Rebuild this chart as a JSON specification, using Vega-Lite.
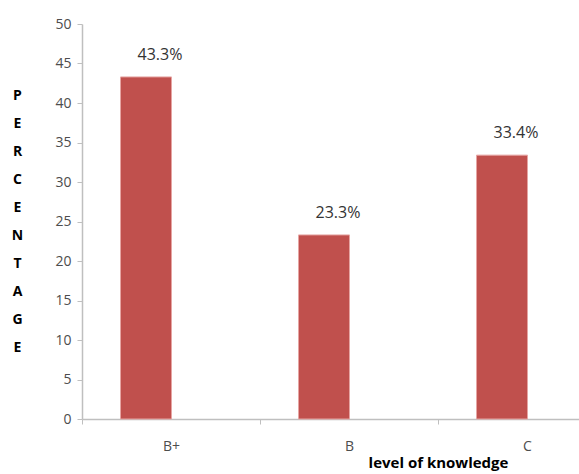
{
  "$schema": "https://vega.github.io/schema/vega-lite/v6.json",
  "width": 497,
  "height": 395,
  "autosize": {"type": "none"},
  "padding": {"left": 82, "top": 24, "right": 0, "bottom": 55},
  "background": "white",
  "config": {"view": {"stroke": null}, "font": "Open Sans"},
  "data": {
    "values": [
      {"level": "B+", "pct": 43.3, "label": "43.3%"},
      {"level": "B", "pct": 23.3, "label": "23.3%"},
      {"level": "C", "pct": 33.4, "label": "33.4%"}
    ]
  },
  "encoding": {
    "x": {
      "field": "level",
      "type": "nominal",
      "sort": null,
      "scale": {"paddingInner": 0, "paddingOuter": 0, "range": [0, 534]},
      "axis": {
        "title": "level of knowledge",
        "titleFont": "Open Sans",
        "titleFontWeight": "bold",
        "titleFontSize": 15,
        "titleColor": "#000000",
        "titleX": 356,
        "titleY": 43,
        "titleBaseline": "middle",
        "titleAnchor": null,
        "labelAngle": 0,
        "labelFontSize": 14,
        "labelColor": "#4d4d4d",
        "labelPadding": 15,
        "tickBand": "extent",
        "tickSize": 5,
        "tickColor": "#bfbfbf",
        "domainColor": "#bfbfbf",
        "domainWidth": 1.5,
        "grid": false
      }
    },
    "y": {
      "field": "pct",
      "type": "quantitative",
      "scale": {"domain": [0, 50]},
      "axis": {
        "title": ["P", "E", "R", "C", "E", "N", "T", "A", "G", "E"],
        "titleAngle": 0,
        "titleFontWeight": "bold",
        "titleFontSize": 14,
        "titleColor": "#000000",
        "titleLineHeight": 28,
        "titleX": -65,
        "titleY": 71,
        "titleAlign": "center",
        "titleBaseline": "middle",
        "values": [0, 5, 10, 15, 20, 25, 30, 35, 40, 45, 50],
        "labelFontSize": 14,
        "labelColor": "#4d4d4d",
        "labelPadding": 6,
        "tickSize": 5,
        "tickColor": "#bfbfbf",
        "domainColor": "#bfbfbf",
        "domainWidth": 1.5,
        "grid": false
      }
    }
  },
  "layer": [
    {"mark": {"type": "bar", "width": 51, "xOffset": -25, "color": "#c0504d", "stroke": "#e6a5a3", "strokeWidth": 1}},
    {
      "mark": {"type": "text", "dy": -22, "dx": -11, "fontSize": 16, "color": "#333333", "baseline": "middle"},
      "encoding": {"text": {"field": "label"}}
    }
  ]
}
